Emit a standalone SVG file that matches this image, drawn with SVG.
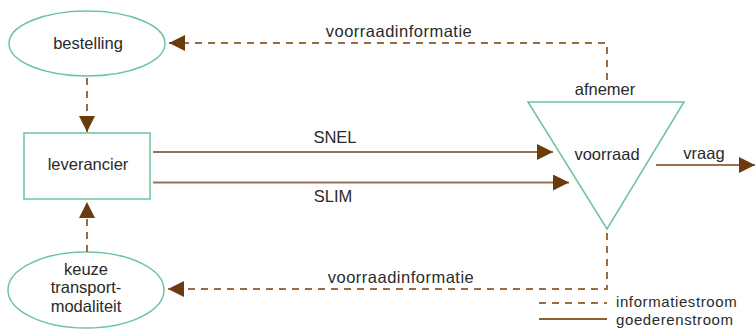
<svg xmlns="http://www.w3.org/2000/svg" width="755" height="331" viewBox="0 0 755 331">
<defs>
<style>
text{font-family:"Liberation Sans",Arial,sans-serif;font-size:16.5px;fill:#2a2a2a}
.c{text-anchor:middle}
.lg{font-size:15px;letter-spacing:0.6px}
.node{fill:#fff;stroke:#6cc4a0;stroke-width:1.5}
.info{fill:none;stroke:#9a6a40;stroke-width:2;stroke-dasharray:7 6}
.goods{fill:none;stroke:#9a7050;stroke-width:2}
</style>
<marker id="ah" markerUnits="userSpaceOnUse" markerWidth="16" markerHeight="16" viewBox="0 0 16 16" refX="16" refY="8" orient="auto">
<path d="M0,0 L16,8 L0,16 Z" fill="#6b3a0f"/>
</marker>
</defs>
<g id="bestelling"><ellipse class="node" cx="87" cy="43.5" rx="78" ry="32.5"/><text class="c" x="88" y="49">bestelling</text></g>
<g id="leverancier"><rect class="node" x="24" y="133" width="126" height="66"/><text class="c" x="88" y="170">leverancier</text></g>
<g id="keuze"><ellipse class="node" cx="86" cy="290" rx="78" ry="38"/><text class="c" x="86" y="275">keuze</text><text class="c" x="86" y="293">transport-</text><text class="c" x="86" y="312">modaliteit</text></g>
<g id="afnemer"><polygon class="node" points="528,102 684,102 607,229"/><text class="c" x="605" y="95">afnemer</text><text class="c" x="607" y="160">voorraad</text></g>
<g id="connectors">
<path class="info" d="M607,80 V43 H169" marker-end="url(#ah)"/>
<path class="info" d="M87,78 V132" marker-end="url(#ah)"/>
<path class="info" d="M607,233 V289 H168" marker-end="url(#ah)"/>
<path class="info" d="M87,252 V202" marker-end="url(#ah)"/>
<path class="goods" d="M153,152 H553" marker-end="url(#ah)"/>
<path class="goods" d="M153,182.5 H569" marker-end="url(#ah)"/>
<path class="goods" d="M656,165 H755" marker-end="url(#ah)"/>
<text class="c" x="399" y="37" letter-spacing="0.5">voorraadinformatie</text>
<text class="c" x="401" y="283" letter-spacing="0.5">voorraadinformatie</text>
<text class="c" x="335" y="143">SNEL</text>
<text class="c" x="333" y="202">SLIM</text>
<text class="c" x="704" y="159">vraag</text>
</g>
<g id="legend">
<path class="info" d="M539,303 H607" stroke-dasharray="6 5"/>
<path class="goods" d="M539,319 H607" style="stroke:#8c5e30"/>
<text class="lg" x="616" y="307">informatiestroom</text>
<text class="lg" x="616" y="324.5">goederenstroom</text>
</g>
</svg>
